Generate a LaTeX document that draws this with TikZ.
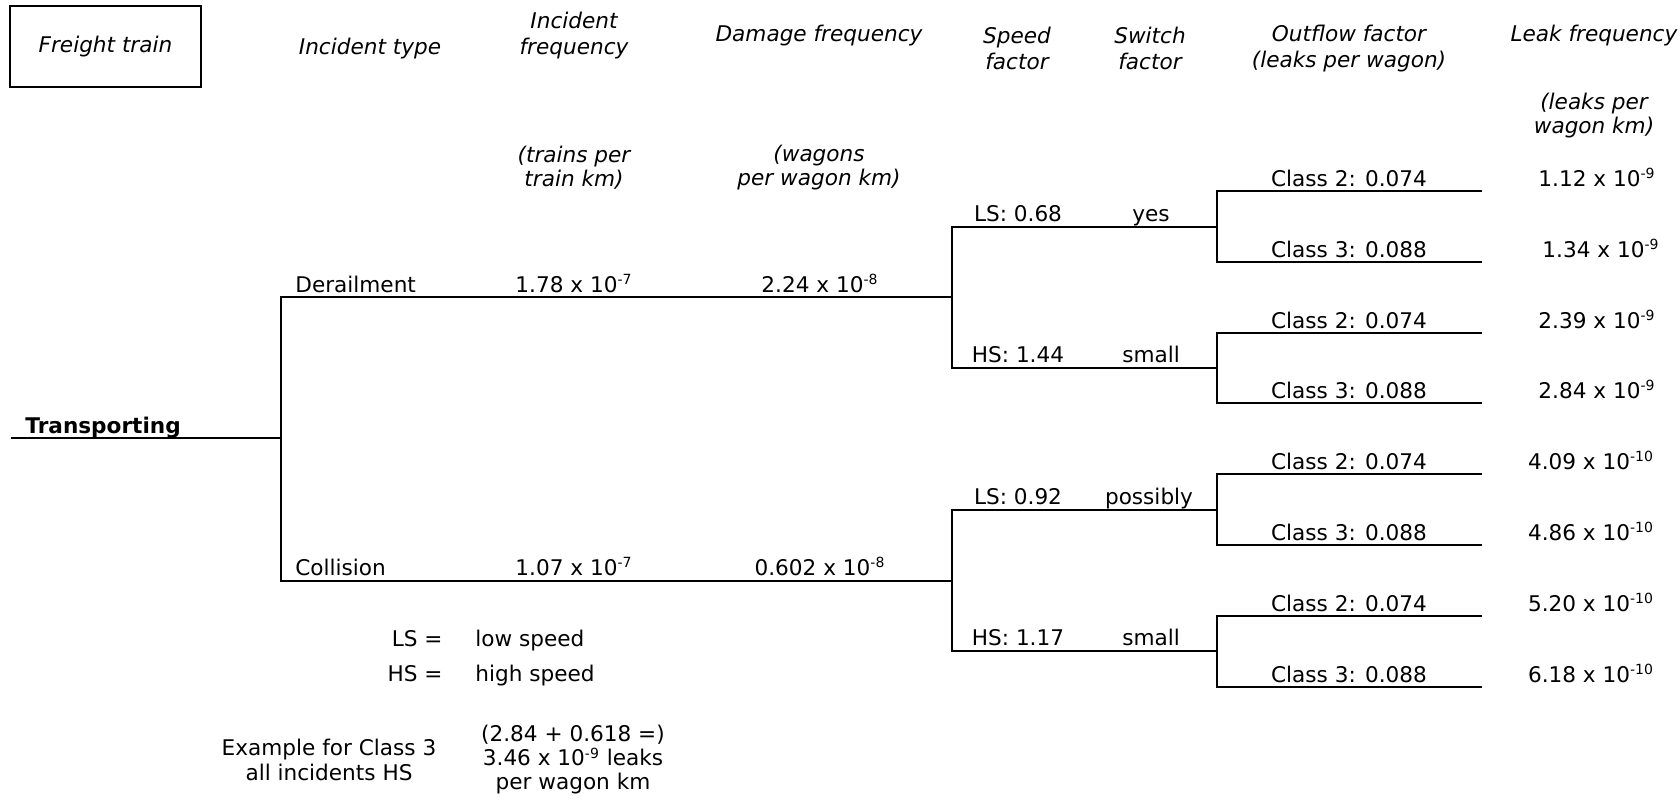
\documentclass[tikz,border=0pt]{standalone}
\usepackage{fontspec}
\setmainfont{DejaVu Sans}
\usepackage{tikz}
\usetikzlibrary{positioning}
\usepackage{xcolor}
\definecolor{TreeBlack}{HTML}{000000}
\definecolor{TreeWhite}{HTML}{FFFFFF}
\newcommand{\expo}[1]{\textsuperscript{\fontsize{7}{8}\selectfont #1}}
\tikzset{
    head/.style={
        font=\fontsize{10.8}{13}\selectfont\itshape,
        text=TreeBlack,
        align=center,
        inner sep=0pt
    },
    unitlbl/.style={
        font=\fontsize{10.8}{12}\selectfont\itshape,
        text=TreeBlack,
        align=center,
        inner sep=0pt
    },
    lbl/.style={
        font=\fontsize{10.8}{12}\selectfont,
        text=TreeBlack,
        align=center,
        inner sep=0pt,
        anchor=base
    },
    titlebox/.style={
        draw=TreeBlack,
        fill=TreeWhite,
        line width=1pt,
        minimum width=95.5pt,
        minimum height=40.5pt,
        font=\fontsize{10.8}{13}\selectfont\itshape,
        text=TreeBlack,
        align=center
    },
    branch/.style={
        draw=TreeBlack,
        line width=1pt
    }
}

\begin{document}
\begin{tikzpicture}[x=0.5pt, y=-0.5pt]
        \useasboundingbox (0,0) rectangle (1680,799);

        % column heads
        \node[titlebox] (freight) at (105.5,46.5) {Freight train};
        \node[head, anchor=base] (hType) at (370,54) {Incident type};
        \node[head] (hInc) at (574,35.5) {Incident\\frequency};
        \node[head, anchor=base] (hDmg) at (819,41) {Damage frequency};
        \node[head] (hSpeed) at (1017,48.5) {Speed\\factor};
        \node[head] (hSwitch) at (1150,48.5) {Switch\\factor};
        \node[head] (hOut) at (1349,48.5) {Outflow factor\\(leaks per wagon)};
        \node[head, anchor=base] (hLeak) at (1594,41) {Leak frequency};
        \node[unitlbl] (uLeak) at (1594,116) {(leaks per\\wagon km)};
        \node[unitlbl] (uInc) at (574,167.5) {(trains per\\train km)};
        \node[unitlbl] (uDmg) at (819,167.5) {(wagons\\per wagon km)};

        % tree points
        \coordinate (root) at (11,438);
        \coordinate (fork) at (281,438);
        \coordinate (derA) at (281,297);
        \coordinate (derB) at (952,297);
        \coordinate (colA) at (281,581);
        \coordinate (colB) at (952,581);
        \coordinate (dlsA) at (952,227);
        \coordinate (dlsB) at (1217,227);
        \coordinate (dhsA) at (952,368);
        \coordinate (dhsB) at (1217,368);
        \coordinate (clsA) at (952,510);
        \coordinate (clsB) at (1217,510);
        \coordinate (chsA) at (952,651);
        \coordinate (chsB) at (1217,651);
        \coordinate (k1A) at (1217,191);
        \coordinate (k1B) at (1482,191);
        \coordinate (k2B) at (1482,262);
        \coordinate (k3A) at (1217,333);
        \coordinate (k3B) at (1482,333);
        \coordinate (k4B) at (1482,403);
        \coordinate (k5A) at (1217,474);
        \coordinate (k5B) at (1482,474);
        \coordinate (k6B) at (1482,545);
        \coordinate (k7A) at (1217,616);
        \coordinate (k7B) at (1482,616);
        \coordinate (k8B) at (1482,687);

        \draw[branch] (root) -- (fork);
        \draw[branch] (derB) -- (derA) |- (colB);
        \draw[branch] (dlsB) -- (dlsA) |- (dhsB);
        \draw[branch] (clsB) -- (clsA) |- (chsB);
        \draw[branch] (k1B) -- (k1A) |- (k2B);
        \draw[branch] (k3B) -- (k3A) |- (k4B);
        \draw[branch] (k5B) -- (k5A) |- (k6B);
        \draw[branch] (k7B) -- (k7A) |- (k8B);

        % incident branches
        \node[lbl, anchor=base west, font=\fontsize{10.8}{12}\selectfont\bfseries] (lTrans) at (25,433) {Transporting};
        \node[lbl, anchor=base west] (lDer) at (295,292) {Derailment};
        \node[lbl] (lDerInc) at (574,292) {1.78 x 10\expo{-7}};
        \node[lbl] (lDerDmg) at (820,292) {2.24 x 10\expo{-8}};
        \node[lbl, anchor=base west] (lCol) at (295,575) {Collision};
        \node[lbl] (lColInc) at (574,575) {1.07 x 10\expo{-7}};
        \node[lbl] (lColDmg) at (820,575) {0.602 x 10\expo{-8}};

        % speed and switch
        \node[lbl] (lDls) at (1018,221) {LS: 0.68};
        \node[lbl] (sDls) at (1151,221) {yes};
        \node[lbl] (lDhs) at (1018,362) {HS: 1.44};
        \node[lbl] (sDhs) at (1151,362) {small};
        \node[lbl] (lCls) at (1018,504) {LS: 0.92};
        \node[lbl] (sCls) at (1149,504) {possibly};
        \node[lbl] (lChs) at (1018,645) {HS: 1.17};
        \node[lbl] (sChs) at (1151,645) {small};

        % outflow classes
        \node[lbl] (c1) at (1349,186) {Class 2: 0.074};
        \node[lbl] (c2) at (1349,257) {Class 3: 0.088};
        \node[lbl] (c3) at (1349,328) {Class 2: 0.074};
        \node[lbl] (c4) at (1349,398) {Class 3: 0.088};
        \node[lbl] (c5) at (1349,469) {Class 2: 0.074};
        \node[lbl] (c6) at (1349,540) {Class 3: 0.088};
        \node[lbl] (c7) at (1349,611) {Class 2: 0.074};
        \node[lbl] (c8) at (1349,682) {Class 3: 0.088};

        % leak frequencies
        \node[lbl] (f1) at (1597,186) {1.12 x 10\expo{-9}};
        \node[lbl] (f2) at (1601,257) {1.34 x 10\expo{-9}};
        \node[lbl] (f3) at (1597,328) {2.39 x 10\expo{-9}};
        \node[lbl] (f4) at (1597,398) {2.84 x 10\expo{-9}};
        \node[lbl] (f5) at (1591,469) {4.09 x 10\expo{-10}};
        \node[lbl] (f6) at (1591,540) {4.86 x 10\expo{-10}};
        \node[lbl] (f7) at (1591,611) {5.20 x 10\expo{-10}};
        \node[lbl] (f8) at (1591,682) {6.18 x 10\expo{-10}};

        % legend and example
        \node[lbl, anchor=base east] (kLS) at (443,646) {LS =};
        \node[lbl, anchor=base west] (vLS) at (475,646) {low speed};
        \node[lbl, anchor=base east] (kHS) at (443,681) {HS =};
        \node[lbl, anchor=base west] (vHS) at (475,681) {high speed};
        \node[lbl, anchor=center, font=\fontsize{10.8}{12.5}\selectfont] (exLbl) at (329,760) {Example for Class 3\\all incidents HS};
        \node[lbl, anchor=center] (exVal) at (573,760) {(2.84 + 0.618 =)\\3.46 x 10\expo{-9} leaks\\per wagon km};
    \end{tikzpicture}
\end{document}
